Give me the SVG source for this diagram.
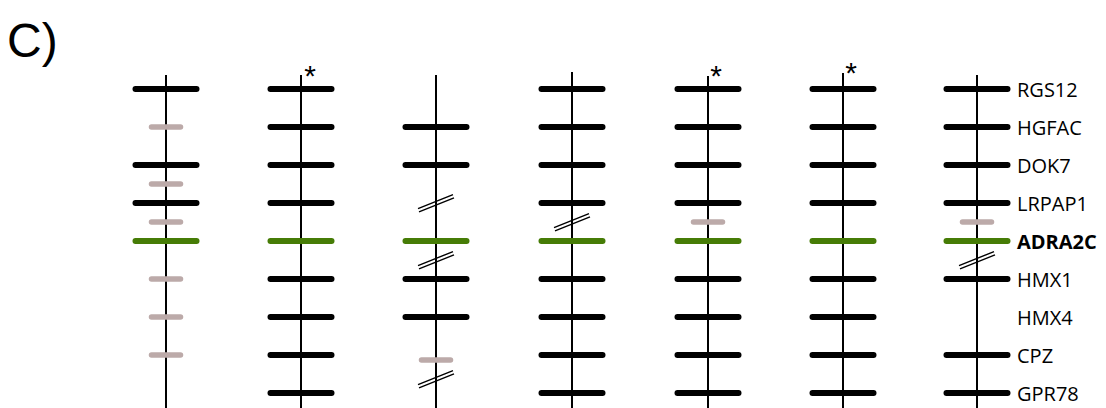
<svg xmlns="http://www.w3.org/2000/svg" xmlns:xlink="http://www.w3.org/1999/xlink" width="1106" height="408" viewBox="0 0 1106 408">
<style>
.ax{stroke:#000;stroke-width:2;fill:none}
.b{stroke:#000;stroke-width:6;stroke-linecap:round}
.g{stroke:#bcaaa9;stroke-width:5.5;stroke-linecap:round}
.gr{stroke:#467c06;stroke-width:6;stroke-linecap:round}
.brk{stroke:#000;stroke-width:1.4;fill:none}
.lbl{font-family:"Open Sans","Liberation Sans",sans-serif;font-size:20px;fill:#000}
.star{font-family:"Liberation Sans",Arial,sans-serif;font-size:30px;fill:#000;text-anchor:middle}
.title{font-family:"Liberation Sans",Arial,sans-serif;font-size:48px;fill:#000}
</style>
<defs>
<g id="B"><line class="b" x1="-30.5" y1="0" x2="30.5" y2="0"/></g>
<g id="G"><line class="g" x1="-14.5" y1="0" x2="14.5" y2="0"/></g>
<g id="E"><line class="gr" x1="-30.5" y1="0" x2="30.5" y2="0"/></g>
<g id="K"><path class="brk" d="M-18,5.6 L17,-8.4 M-17,8.8 L18,-5.2"/></g>
</defs>
<rect width="1106" height="408" fill="#fff"/>
<text class="title" x="7" y="57">C)</text>

<g id="col1" transform="translate(166,0)">
<line class="ax" x1="0" y1="75" x2="0" y2="408"/>
<use xlink:href="#B" y="89"/>
<use xlink:href="#G" y="127"/>
<use xlink:href="#B" y="165"/>
<use xlink:href="#G" y="184"/>
<use xlink:href="#B" y="203"/>
<use xlink:href="#G" y="222"/>
<use xlink:href="#E" y="241"/>
<use xlink:href="#G" y="279"/>
<use xlink:href="#G" y="317"/>
<use xlink:href="#G" y="355"/>
</g>

<g id="col2" transform="translate(301,0)">
<line class="ax" x1="0" y1="75" x2="0" y2="408"/>
<text class="star" x="9" y="86">*</text>
<use xlink:href="#B" y="89"/>
<use xlink:href="#B" y="127"/>
<use xlink:href="#B" y="165"/>
<use xlink:href="#B" y="203"/>
<use xlink:href="#E" y="241"/>
<use xlink:href="#B" y="279"/>
<use xlink:href="#B" y="317"/>
<use xlink:href="#B" y="355"/>
<use xlink:href="#B" y="393"/>
</g>

<g id="col3" transform="translate(436,0)">
<line class="ax" x1="0" y1="75" x2="0" y2="408"/>
<use xlink:href="#B" y="127"/>
<use xlink:href="#B" y="165"/>
<use xlink:href="#K" y="203"/>
<use xlink:href="#E" y="241"/>
<use xlink:href="#K" y="260"/>
<use xlink:href="#B" y="279"/>
<use xlink:href="#B" y="317"/>
<use xlink:href="#G" y="360"/>
<use xlink:href="#K" y="379"/>
</g>

<g id="col4" transform="translate(572,0)">
<line class="ax" x1="0" y1="72" x2="0" y2="408"/>
<use xlink:href="#B" y="89"/>
<use xlink:href="#B" y="127"/>
<use xlink:href="#B" y="165"/>
<use xlink:href="#B" y="203"/>
<use xlink:href="#K" y="222"/>
<use xlink:href="#E" y="241"/>
<use xlink:href="#B" y="279"/>
<use xlink:href="#B" y="317"/>
<use xlink:href="#B" y="355"/>
<use xlink:href="#B" y="393"/>
</g>

<g id="col5" transform="translate(708,0)">
<line class="ax" x1="0" y1="76" x2="0" y2="408"/>
<text class="star" x="8" y="86">*</text>
<use xlink:href="#B" y="89"/>
<use xlink:href="#B" y="127"/>
<use xlink:href="#B" y="165"/>
<use xlink:href="#B" y="203"/>
<use xlink:href="#G" y="222"/>
<use xlink:href="#E" y="241"/>
<use xlink:href="#B" y="279"/>
<use xlink:href="#B" y="317"/>
<use xlink:href="#B" y="355"/>
<use xlink:href="#B" y="393"/>
</g>

<g id="col6" transform="translate(843,0)">
<line class="ax" x1="0" y1="73" x2="0" y2="408"/>
<text class="star" x="8" y="83">*</text>
<use xlink:href="#B" y="89"/>
<use xlink:href="#B" y="127"/>
<use xlink:href="#B" y="165"/>
<use xlink:href="#B" y="203"/>
<use xlink:href="#E" y="241"/>
<use xlink:href="#B" y="279"/>
<use xlink:href="#B" y="317"/>
<use xlink:href="#B" y="355"/>
<use xlink:href="#B" y="393"/>
</g>

<g id="col7" transform="translate(977,0)">
<line class="ax" x1="0" y1="75" x2="0" y2="408"/>
<use xlink:href="#B" y="89"/>
<use xlink:href="#B" y="127"/>
<use xlink:href="#B" y="165"/>
<use xlink:href="#B" y="203"/>
<use xlink:href="#G" y="222"/>
<use xlink:href="#E" y="241"/>
<use xlink:href="#K" y="260"/>
<use xlink:href="#B" y="279"/>
<use xlink:href="#B" y="355"/>
<use xlink:href="#B" y="393"/>
</g>

<g id="labels">
<text class="lbl" x="1017" y="97">RGS12</text>
<text class="lbl" x="1017" y="135">HGFAC</text>
<text class="lbl" x="1017" y="173">DOK7</text>
<text class="lbl" x="1017" y="211">LRPAP1</text>
<text class="lbl" x="1017" y="249" font-weight="bold">ADRA2C</text>
<text class="lbl" x="1017" y="287">HMX1</text>
<text class="lbl" x="1017" y="325">HMX4</text>
<text class="lbl" x="1017" y="363">CPZ</text>
<text class="lbl" x="1017" y="401">GPR78</text>
</g>
</svg>
